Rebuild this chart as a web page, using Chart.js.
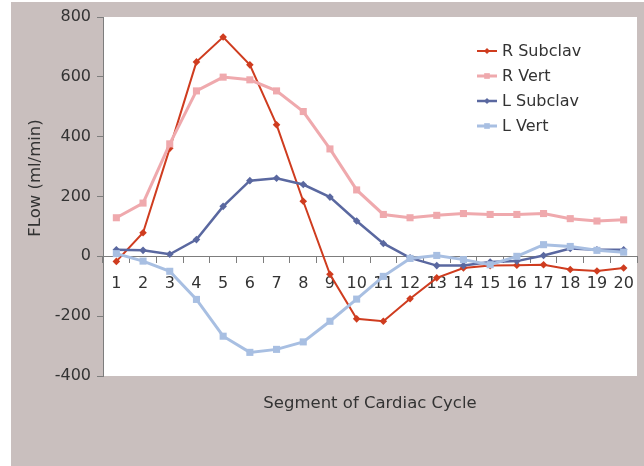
<!DOCTYPE html>
<html>
<head>
<meta charset="utf-8">
<script src="https://cdn.jsdelivr.net/npm/chart.js@4/dist/chart.umd.min.js"></script>
<style>
  html, body { margin: 0; padding: 0; background: #fff; }
  #grafico { display: block; }
</style>
</head>
<body>
<canvas id="grafico" width="644" height="466"></canvas>
<script>
// Segmentos del ciclo cardiaco (eje x)
const segmentos = ['1', '2', '3', '4', '5', '6', '7', '8', '9', '10',
  '11', '12', '13', '14', '15', '16', '17', '18', '19', '20'];

// Flujo (ml/min) por vaso
const rSubclav = [-17, 79, 361, 650, 733, 640, 440, 184, -60, -209, -217, -142, -72, -39, -31, -30, -28, -44, -49, -39];
const rVert = [129, 178, 376, 553, 599, 590, 553, 484, 359, 222, 140, 129, 137, 143, 140, 140, 143, 126, 118, 122];
const lSubclav = [22, 20, 7, 56, 167, 253, 261, 240, 198, 118, 43, -5, -31, -31, -19, -16, 3, 26, 22, 22];
const lVert = [9, -16, -50, -144, -267, -321, -311, -286, -217, -143, -67, -7, 3, -11, -28, 0, 39, 33, 20, 14];

// Ticks del eje y
const ticksY = [-400, -200, 0, 200, 400, 600, 800];

const fuente = 'DejaVu Sans, Verdana, sans-serif';
const colorTexto = '#333';
const colorEje = '#7d7d7d';

// Fondo gris, franja blanca y area del grafico blanca
const fondo = {
  id: 'fondo',
  beforeDraw(chart) {
    const c = chart.ctx, a = chart.chartArea;
    c.save();
    c.fillStyle = '#fff';
    c.fillRect(0, 0, chart.width, chart.height);
    c.fillStyle = '#c9bfbe';
    c.fillRect(11, 2, chart.width - 11, chart.height - 2);
    c.fillStyle = '#fff';
    c.fillRect(a.left, a.top, a.right - a.left, a.bottom - a.top);
    c.restore();
  }
};

// Titulos de ejes y leyenda
const extras = {
  id: 'extras',
  afterDraw(chart) {
    const c = chart.ctx, a = chart.chartArea;
    c.save();
    c.fillStyle = colorTexto;
    c.font = '16.5px ' + fuente;
    c.textAlign = 'center';
    c.textBaseline = 'alphabetic';
    c.fillText('Segment of Cardiac Cycle', (a.left + a.right) / 2, 408);
    c.translate(40, 178);
    c.rotate(-Math.PI / 2);
    c.fillText('FLow (ml/min)', 0, 0);
    c.restore();

    // leyenda
    c.save();
    c.font = '16px ' + fuente;
    c.textAlign = 'left';
    c.textBaseline = 'middle';
    chart.data.datasets.forEach((d, i) => {
      const y = 51 + i * 25;
      c.strokeStyle = d.borderColor;
      c.lineWidth = d.borderWidth;
      c.beginPath();
      c.moveTo(477, y);
      c.lineTo(497, y);
      c.stroke();
      c.fillStyle = d.borderColor;
      Chart.helpers.drawPoint(c, {
        pointStyle: d.pointStyle, radius: d.pointRadius * 0.8, borderWidth: 0
      }, 487, y);
      c.fillStyle = colorTexto;
      c.fillText(d.label, 502, y + 1);
    });
    c.restore();
  }
};

function serie(label, data, color, estilo, radio, ancho, orden) {
  return {
    label, data,
    borderColor: color,
    backgroundColor: color,
    pointBackgroundColor: color,
    pointBorderColor: color,
    pointBorderWidth: 0,
    pointStyle: estilo,
    pointRadius: radio,
    borderWidth: ancho,
    tension: 0,
    fill: false,
    order: orden
  };
}

new Chart(document.getElementById('grafico'), {
  type: 'line',
  data: {
    labels: segmentos,
    datasets: [
      serie('R Subclav', rSubclav, '#cf3c1f', 'rectRot', 3.8, 2, 4),
      serie('R Vert', rVert, '#efa9ad', 'rect', 5, 3, 3),
      serie('L Subclav', lSubclav, '#5a68a0', 'rectRot', 3.8, 2.5, 2),
      serie('L Vert', lVert, '#a8bfe2', 'rect', 5, 3, 1)
    ]
  },
  options: {
    responsive: false,
    animation: false,
    layout: { padding: { left: 11, right: 7, top: 17, bottom: 90 } },
    plugins: {
      legend: { display: false },
      tooltip: { enabled: false }
    },
    scales: {
      x: {
        type: 'category',
        position: { y: 0 },
        offset: true,
        grid: { offset: true, drawOnChartArea: false, drawTicks: true, tickLength: 6, color: colorEje },
        border: { color: colorEje, width: 1 },
        ticks: { color: colorTexto, font: { family: fuente, size: 16 }, padding: 12, maxRotation: 0, autoSkip: false },
        afterFit(s) { s.height = 30; s.paddingLeft = 0; s.paddingRight = 0; }
      },
      y: {
        min: -400,
        max: 800,
        afterBuildTicks(s) { s.ticks = ticksY.map(v => ({ value: v })); },
        grid: { drawOnChartArea: false, drawTicks: true, tickLength: 6, color: colorEje },
        border: { color: colorEje, width: 1 },
        ticks: { color: colorTexto, font: { family: fuente, size: 16 }, padding: 6 },
        afterFit(s) { s.width = 92; }
      }
    }
  },
  plugins: [fondo, extras]
});
</script>
</body>
</html>
